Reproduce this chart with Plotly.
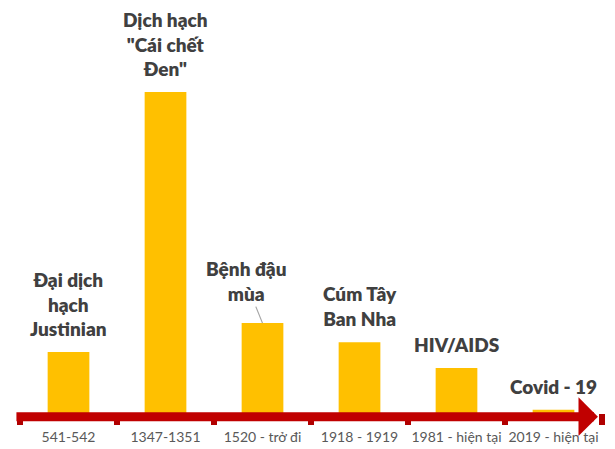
import plotly.graph_objects as go

# giai đoạn (trục hoành) và số người chết ước tính (triệu người)
periods = ["541-542", "1347-1351", "1520 - trở đi", "1918 - 1919", "1981 - hiện tại", "2019 - hiện tại"]
deaths = [38, 200, 56, 44, 28, 2]
names = [
    "Đại dịch<br>hạch<br>Justinian",
    "Dịch hạch<br>\"Cái chết<br>Đen\"",
    "Bệnh đậu<br>mùa",
    "Cúm Tây<br>Ban Nha",
    "HIV/AIDS",
    "Covid - 19",
]

LABEL_FONT = dict(family="Lato, 'Open Sans', sans-serif", size=19, color="#404040", weight=800)

fig = go.Figure()

fig.add_trace(
    go.Bar(
        x=periods,
        y=deaths,
        marker=dict(color="#FFC000", line=dict(width=0)),
        width=0.43,
        hoverinfo="x+y",
    )
)

# nhãn tên đại dịch phía trên mỗi cột
for i, (p, v, n) in enumerate(zip(periods, deaths, names)):
    if i == 2:
        # nhãn lệch trái với đường dẫn
        fig.add_annotation(
            x=p, y=v, text=n,
            showarrow=True, arrowhead=0, arrowwidth=1.2, arrowcolor="#A6A6A6",
            ax=-17, ay=-42, standoff=0,
            font=LABEL_FONT, align="center",
        )
    else:
        fig.add_annotation(
            x=p, y=v, text=n,
            showarrow=False, yanchor="bottom", yshift=10,
            font=LABEL_FONT, align="center",
        )

# trục thời gian dạng mũi tên đỏ
fig.add_annotation(
    xref="paper", yref="paper", x=0.993, y=-0.009,
    ax=-583, ay=0, text="",
    showarrow=True, arrowhead=1, arrowsize=0.72, arrowwidth=9,
    arrowcolor="#C00000", standoff=0,
)

# trang html có lề body 8px, nên bù lại ở lề của hình
fig.update_layout(
    width=615,
    height=449,
    margin=dict(l=12, r=21, t=0, b=44, autoexpand=False),
    plot_bgcolor="white",
    paper_bgcolor="white",
    showlegend=False,
    bargap=0.57,
    xaxis=dict(
        showline=False,
        showgrid=False,
        automargin=False,
        tickangle=0,
        ticks="outside",
        tickson="boundaries",
        ticklen=11,
        tickwidth=6,
        tickcolor="#B00000",
        ticklabelstandoff=14,
        tickfont=dict(family="Lato, 'Open Sans', sans-serif", size=14, color="#595959"),
    ),
    yaxis=dict(
        visible=False,
        range=[0, 252.3],
    ),
)

fig.write_html("out.html")
